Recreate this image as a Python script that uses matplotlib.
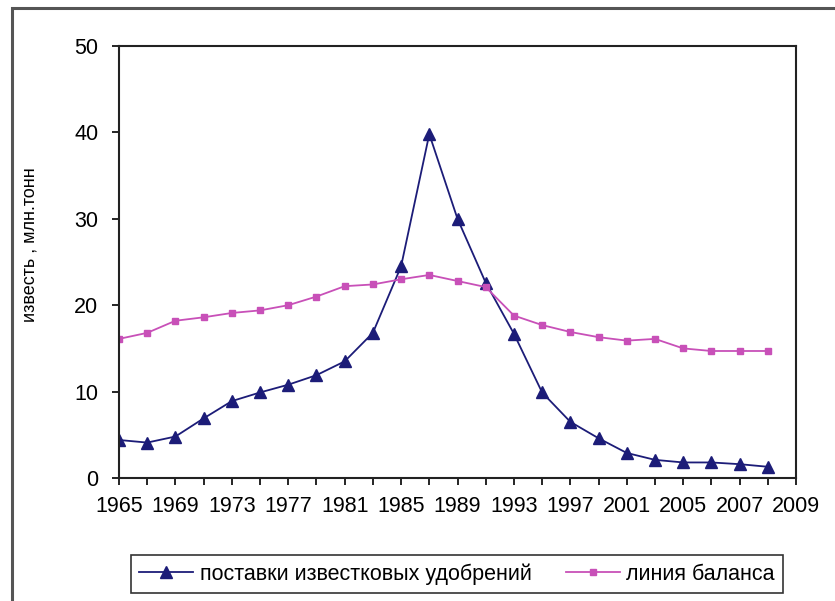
import matplotlib
matplotlib.use("Agg")
import matplotlib.pyplot as plt
from matplotlib.patches import Rectangle

plt.rcParams['font.family'] = ['Liberation Sans', 'DejaVu Sans']

# categories on the x axis (2-year steps, then yearly after 2005)
years = [1965, 1967, 1969, 1971, 1973, 1975, 1977, 1979, 1981, 1983,
         1985, 1987, 1989, 1991, 1993, 1995, 1997, 1999, 2001, 2003,
         2005, 2006, 2007, 2008, 2009]
tick_labels = ["1965", "1969", "1973", "1977", "1981", "1985", "1989",
               "1993", "1997", "2001", "2005", "2007", "2009"]

# lime fertiliser deliveries, mln t
supply = [4.4, 4.1, 4.8, 6.9, 8.9, 9.9, 10.8, 11.9, 13.5, 16.8,
          24.5, 39.8, 30.0, 22.6, 16.7, 9.9, 6.5, 4.6, 2.9, 2.1,
          1.8, 1.8, 1.6, 1.3]
# balance line, mln t
balance = [16.1, 16.8, 18.2, 18.6, 19.1, 19.4, 20.0, 21.0, 22.2, 22.4,
           23.0, 23.5, 22.8, 22.1, 18.8, 17.7, 16.9, 16.3, 15.9, 16.1,
           15.0, 14.7, 14.7, 14.7]

blue = '#1C1C78'
pink = '#C850B8'

fig = plt.figure(figsize=(8.35, 6.01), dpi=100)
ax = fig.add_axes([119 / 835, 1 - 478 / 601, (796 - 119) / 835, (478 - 46) / 601])

x_supply = list(range(len(supply)))
x_balance = list(range(len(balance)))
ax.plot(x_supply, supply, color=blue, lw=1.3, marker='^', markersize=9,
        markerfacecolor=blue, markeredgecolor=blue,
        label='поставки известковых удобрений')
ax.plot(x_balance, balance, color=pink, lw=1.3, marker='s', markersize=5,
        markerfacecolor=pink, markeredgecolor=pink,
        label='линия баланса')

ax.set_xlim(0, len(years) - 1)
ax.set_ylim(0, 50)
ax.set_xticks(range(len(years)))
labels = [str(y) if str(y) in tick_labels and i % 2 == 0 else '' for i, y in enumerate(years)]
ax.set_xticklabels(labels)
ax.set_yticks([0, 10, 20, 30, 40, 50])

ax.tick_params(axis='x', direction='out', length=5, width=1.2, pad=8,
               labelsize=15.5, colors='black')
ax.tick_params(axis='y', direction='out', length=5, width=1.2, pad=10,
               labelsize=15.5, colors='black')
for s in ax.spines.values():
    s.set_linewidth(1.5)
    s.set_color('#222222')

ax.set_ylabel('известь , млн.тонн', fontsize=13)
ax.yaxis.set_label_coords((39 - 119) / (796 - 119), (478 - 245) / (478 - 46))

leg = fig.legend(loc='center', bbox_to_anchor=(457 / 835, 1 - 574 / 601),
                 ncol=2, fontsize=15.5, frameon=True, fancybox=False,
                 edgecolor='black', handlelength=2.5, handletextpad=0.3,
                 columnspacing=1.6, borderpad=0.4)
leg.get_frame().set_linewidth(1.2)

# outer chart frame
fig.patches.append(Rectangle((12 / 835, -0.05), 1.0, 1 - 8 / 601 + 0.05,
                             transform=fig.transFigure, fill=False,
                             edgecolor='#555555', lw=2.2))

fig.savefig('out.png', dpi=100)
